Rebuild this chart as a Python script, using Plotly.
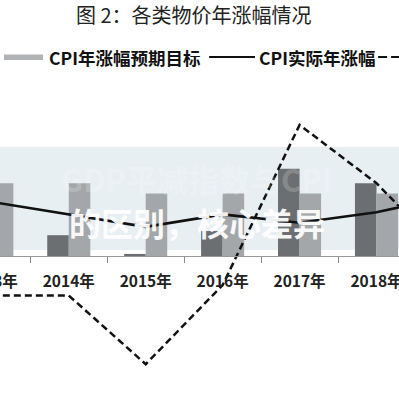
import plotly.graph_objects as go

# ---- data ----
years = ["2013年", "2014年", "2015年", "2016年", "2017年", "2018年", "2019年"]
cpi_target = [3.5, 3.5, 3.0, 3.0, 3.0, 3.0, 3.0]
cpi_actual = [2.6, 2.0, 1.4, 2.0, 1.6, 2.1, 2.9]
ppi = [-1.9, -1.9, -5.2, -1.4, 6.3, 3.5, -0.3]
deflator = [2.2, 1.0, 0.1, 1.2, 4.2, 3.5, 1.3]

title_text = "图 2：各类物价年涨幅情况"
legend_labels = ["CPI年涨幅预期目标", "CPI实际年涨幅", "PPI年涨幅", "GDP平减指数"]
wm_line1 = "GDP平减指数与CPI"
wm_line2 = "的区别，核心差异"

# the visible window is 399x399; the figure is a little wider and shifted left
VIEW = 399
LE, RE = 40, 80
W = VIEW + LE + RE
H = 399
TOP = 100
PH = H - TOP
STEP = 78.75          # px per category
FIRST = 0.094         # category index at the left edge of the window

def py(p):
    return (H - p) / PH

def px(s):
    return (s + LE) / W

DARK = "#6b6f72"
LIGHT = "#a3a7aa"
CJK = "Noto Sans CJK SC"

fig = go.Figure()
fig.add_trace(go.Bar(x=years, y=deflator, marker_color=DARK, marker_line_width=0,
                     name=legend_labels[3], showlegend=False))
fig.add_trace(go.Bar(x=years, y=cpi_target, marker_color=LIGHT, marker_line_width=0,
                     name=legend_labels[0], showlegend=False))
fig.add_trace(go.Scatter(x=years, y=cpi_actual, mode="lines",
                         line=dict(color="#111111", width=2.6),
                         name=legend_labels[1], showlegend=False))
fig.add_trace(go.Scatter(x=years, y=ppi, mode="lines",
                         line=dict(color="#111111", width=2.5, dash="7px,4px"),
                         name=legend_labels[2], showlegend=False))

shapes = [
    dict(type="rect", xref="paper", yref="paper", x0=0, x1=1, y0=py(250), y1=py(147),
         fillcolor="#e8eff3", line_width=0, layer="below"),
    # legend swatches
    dict(type="rect", xref="paper", yref="paper", x0=px(5), x1=px(45), y0=py(60), y1=py(54.5),
         fillcolor="#b0b3b5", line_width=0),
    dict(type="line", xref="paper", yref="paper", x0=px(215), x1=px(262), y0=py(57), y1=py(57),
         line=dict(color="#111111", width=2)),
    dict(type="line", xref="paper", yref="paper", x0=px(388), x1=px(435), y0=py(57), y1=py(57),
         line=dict(color="#111111", width=2, dash="9px,4px")),
]

annotations = [
    dict(text=title_text, xref="paper", yref="paper", x=px(200), y=py(15),
         xanchor="center", yanchor="middle", showarrow=False,
         font=dict(family=CJK, size=20, color="#222222")),
    dict(text="<b>" + legend_labels[0] + "</b>", xref="paper", yref="paper", x=px(49), y=py(57),
         xanchor="left", yanchor="middle", showarrow=False,
         font=dict(family=CJK, size=17.5, color="#111111")),
    dict(text="<b>" + legend_labels[1] + "</b>", xref="paper", yref="paper", x=px(264), y=py(57),
         xanchor="left", yanchor="middle", showarrow=False,
         font=dict(family=CJK, size=17.5, color="#111111")),
    dict(text="<b>" + legend_labels[2] + "</b>", xref="paper", yref="paper", x=px(438), y=py(57),
         xanchor="left", yanchor="middle", showarrow=False,
         font=dict(family=CJK, size=17.5, color="#111111")),
    dict(text="<b>" + wm_line1 + "</b>", xref="paper", yref="paper", x=px(202), y=py(178),
         xanchor="center", yanchor="middle", showarrow=False, opacity=0.18,
         font=dict(family=CJK, size=31, color="#ffffff")),
    dict(text="<b>" + wm_line2 + "</b>", xref="paper", yref="paper", x=px(203), y=py(222),
         xanchor="center", yanchor="middle", showarrow=False, opacity=0.93,
         font=dict(family=CJK, size=32, color="#ffffff")),
]

fig.update_layout(
    width=W, height=H,
    margin=dict(l=0, r=0, t=TOP, b=0, pad=0),
    paper_bgcolor="white", plot_bgcolor="rgba(0,0,0,0)",
    barmode="group", bargap=0.44, bargroupgap=0,
    shapes=shapes, annotations=annotations,
    xaxis=dict(type="category",
               range=[FIRST - LE / STEP, FIRST + (VIEW + RE) / STEP],
               tickson="boundaries",
               ticks="outside", ticklen=6, tickcolor="#888888",
               showline=True, linecolor="#999999", linewidth=1,
               showgrid=False, anchor="free", position=py(256),
               ticklabelstandoff=11,
               tickfont=dict(family=CJK, size=15.5, color="#222222"),
               tickprefix="<b>", ticksuffix="</b>"),
    yaxis=dict(visible=False, range=[-(H - 256) / 20.8, (256 - TOP) / 20.8],
               showgrid=False, zeroline=False),
)

fig.write_html(
    "out.html",
    config={"displayModeBar": False, "staticPlot": True},
    post_script=("document.body.style.margin='0';document.body.style.padding='0';"
                 "document.body.style.overflow='hidden';"
                 "document.documentElement.style.overflow='hidden';"
                 "document.getElementById('{plot_id}').style.marginLeft='-" + str(LE) + "px';"),
)
